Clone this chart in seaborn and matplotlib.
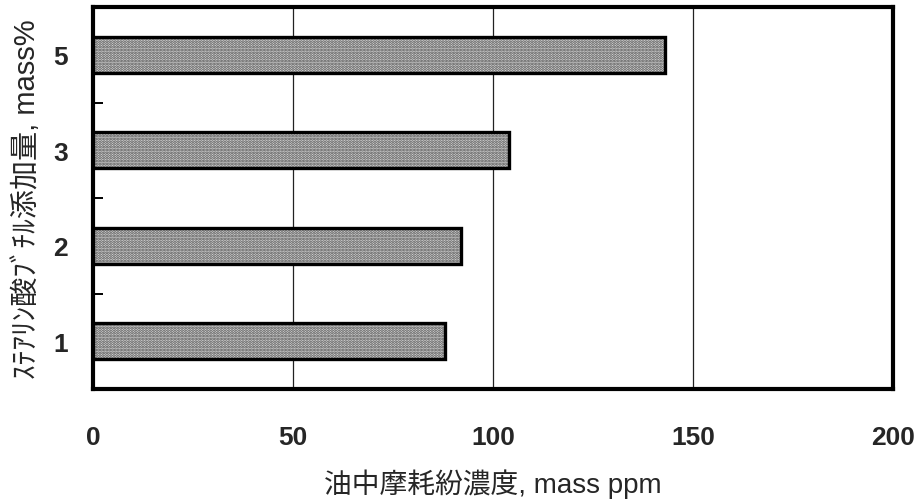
import matplotlib
matplotlib.use("Agg")
import matplotlib.pyplot as plt
import seaborn as sns
import pandas as pd
from matplotlib.patches import Rectangle

# Butyl stearate addition (mass%) and wear debris concentration in oil (mass ppm)
additions = ["5", "3", "2", "1"]
wear_ppm = [143, 104, 92, 88]
x_ticks = [0, 50, 100, 150, 200]

sns.set_theme(style="white")
plt.rcParams["font.family"] = ["Liberation Sans", "Noto Sans CJK JP", "DejaVu Sans"]
plt.rcParams["hatch.linewidth"] = 1.4

df = pd.DataFrame({"add": additions, "ppm": wear_ppm})

fig = plt.figure(figsize=(9.2, 5.02), dpi=100)
ax = fig.add_axes([93 / 920, 1 - 390 / 502, 800 / 920, 382 / 502])

sns.barplot(data=df, x="ppm", y="add", order=additions, orient="h",
            width=0.38, color="#dcdcdc", ax=ax, zorder=3)

for p in ax.patches:
    p.set_hatch("......")
    p.set_edgecolor("#4a4a4a")
    p.set_linewidth(0)
    ax.add_patch(Rectangle((p.get_x(), p.get_y()), p.get_width(), p.get_height(),
                           fill=False, edgecolor="black", linewidth=2.4, zorder=4))

ax.set_xlim(0, 200)
ax.set_ylim(3.5, -0.5)
ax.set_xticks(x_ticks)
ax.set_xticklabels([str(v) for v in x_ticks], fontsize=19, fontweight="bold")
for v in x_ticks[1:-1]:
    ax.axvline(v, color="#222222", linewidth=0.9, zorder=1)

ax.set_yticks(range(len(additions)))
ax.set_yticklabels(additions, fontsize=19, fontweight="bold")
ax.set_yticks([0.5, 1.5, 2.5], minor=True)
ax.tick_params(axis="x", length=0, pad=26)
ax.tick_params(axis="y", which="major", length=0, pad=18)
ax.tick_params(axis="y", which="minor", length=7, width=1.4, direction="in",
               color="black", left=True)

for s in ax.spines.values():
    s.set_visible(True)
    s.set_color("black")
    s.set_linewidth(3)

ax.set_xlabel("油中摩耗紛濃度, mass ppm", fontsize=20, labelpad=14)
ax.set_ylabel("ｽﾃｱﾘﾝ酸ﾌﾞﾁﾙ添加量, mass%", fontsize=21, labelpad=9)
ax.grid(False)

fig.savefig("out.png", dpi=100, facecolor="white")
